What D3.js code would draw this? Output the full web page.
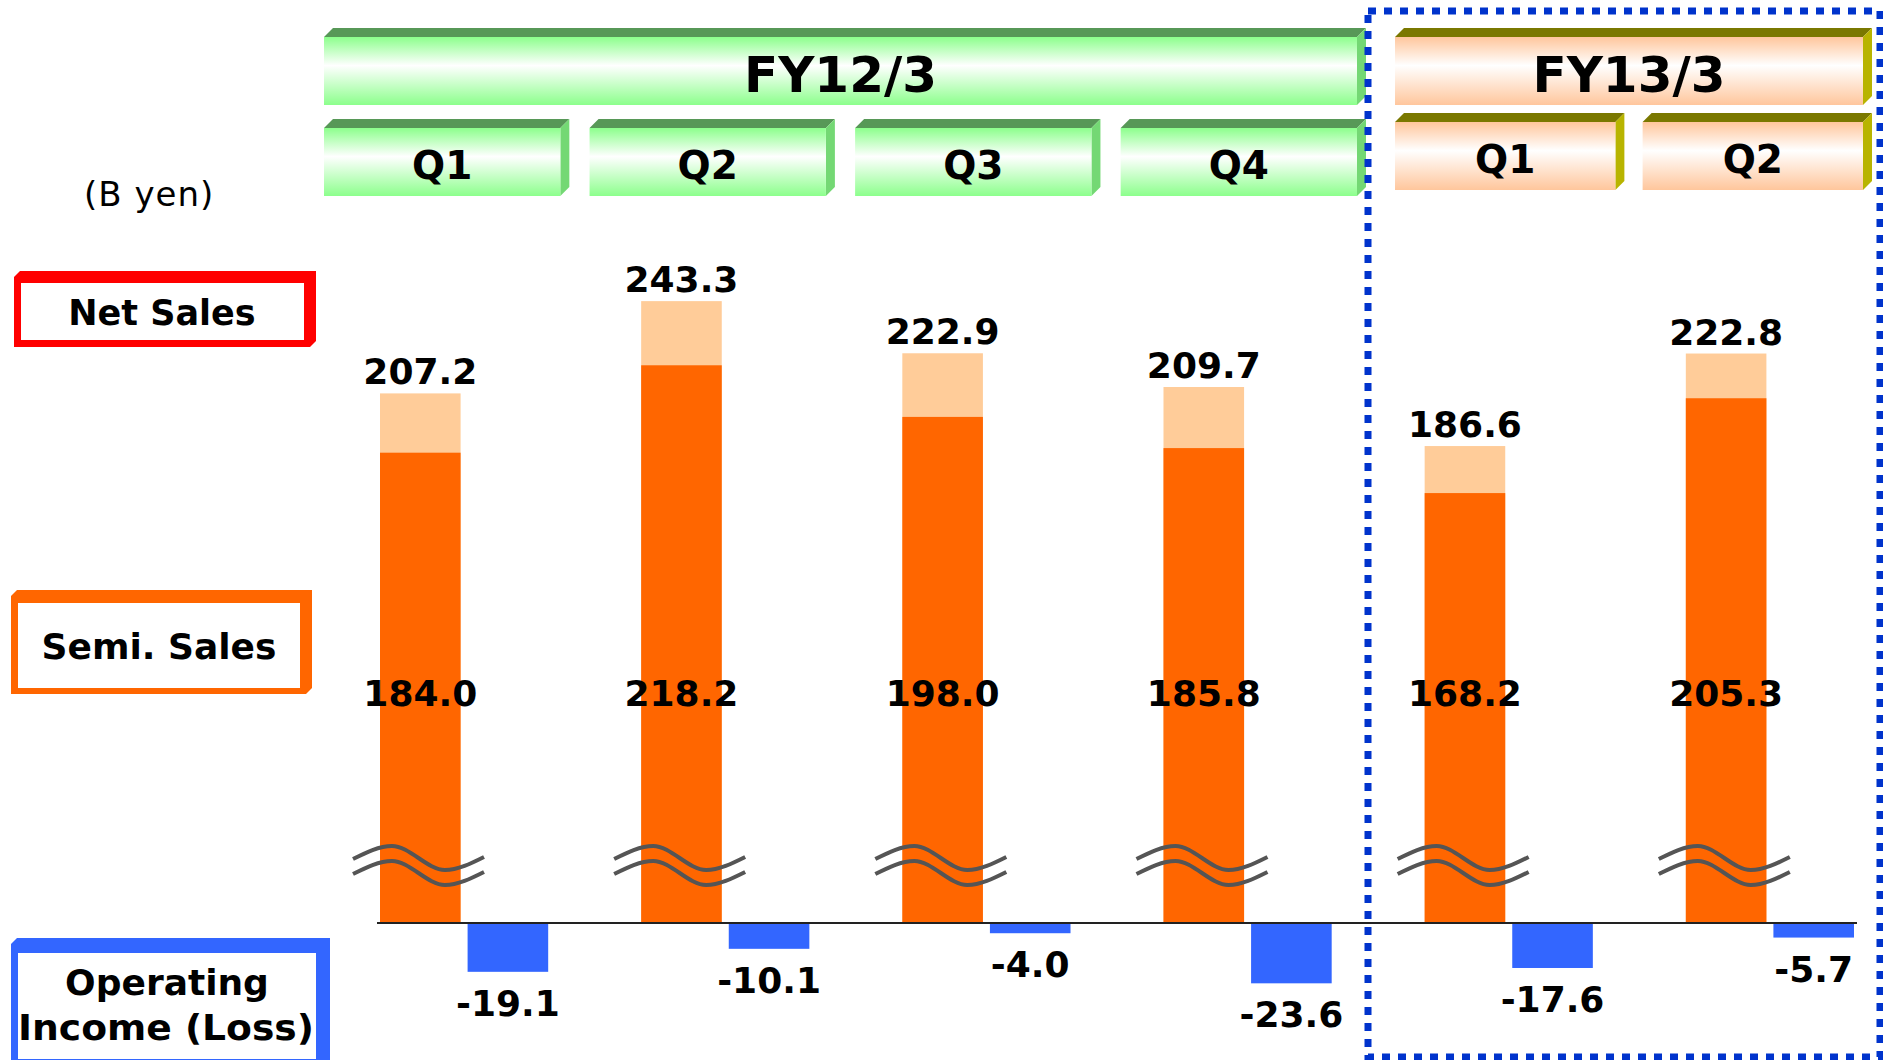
<!DOCTYPE html>
<html>
<head>
<meta charset="utf-8">
<script src="https://cdn.jsdelivr.net/npm/d3@7"></script>
<style>
body { margin: 0; background: #fff; }
text { font-family: "DejaVu Sans", Verdana, sans-serif; }
</style>
</head>
<body>
<div id="chart"></div>
<script>
// data (B yen)
const fiscalYears = ["FY12/3", "FY13/3"];
const quarters = ["Q1", "Q2", "Q3", "Q4", "Q1", "Q2"];
const quarterYear = ["FY12/3", "FY12/3", "FY12/3", "FY12/3", "FY13/3", "FY13/3"];
const netSales = [207.2, 243.3, 222.9, 209.7, 186.6, 222.8];
const semiSales = [184.0, 218.2, 198.0, 185.8, 168.2, 205.3];
const operatingIncome = [-19.1, -10.1, -4.0, -23.6, -17.6, -5.7];
const unitLabel = "(B yen)";

const W = 1883, H = 1060;
const BASE_Y = 923;

const svg = d3.select("#chart").append("svg")
    .attr("width", W)
    .attr("height", H);

const defs = svg.append("defs");
function addGradient(id, edge, mid) {
    const g = defs.append("linearGradient")
        .attr("id", id)
        .attr("x1", 0).attr("y1", 0).attr("x2", 0).attr("y2", 1);
    g.append("stop").attr("offset", "0%").attr("stop-color", edge);
    g.append("stop").attr("offset", "42%").attr("stop-color", mid);
    g.append("stop").attr("offset", "100%").attr("stop-color", edge);
}
addGradient("gGreen", "#8cff8c", "#ffffff");
addGradient("gOrange", "#ffc69c", "#ffffff");

const boxColors = {
    "FY12/3": { front: "url(#gGreen)", top: "#579857", side: "#74d874" },
    "FY13/3": { front: "url(#gOrange)", top: "#7a7800", side: "#b8b400" }
};

// 3d looking header box
function drawBox(x, y0, w, h, colors, label, fontSize, baseline) {
    const d = 9;
    const g = svg.append("g");
    g.append("polygon")
        .attr("points", [[x, y0], [x + d, y0 - d], [x + w + d, y0 - d], [x + w, y0]].join(" "))
        .attr("fill", colors.top);
    g.append("polygon")
        .attr("points", [[x + w, y0], [x + w + d, y0 - d], [x + w + d, y0 + h - d], [x + w, y0 + h]].join(" "))
        .attr("fill", colors.side);
    g.append("rect")
        .attr("x", x).attr("y", y0)
        .attr("width", w).attr("height", h)
        .attr("fill", colors.front);
    g.append("text")
        .attr("x", x + w / 2)
        .attr("y", y0 + baseline)
        .attr("text-anchor", "middle")
        .attr("font-weight", "bold")
        .attr("font-size", fontSize)
        .attr("fill", "#000")
        .text(label);
}

// header : years and quarters
const headerRanges = { "FY12/3": [324, 1357], "FY13/3": [1395, 1863] };
const quarterTop = { "FY12/3": 128, "FY13/3": 122 };
fiscalYears.forEach(fy => {
    const r = headerRanges[fy];
    drawBox(r[0], 37, r[1] - r[0], 68, boxColors[fy], fy, 50, 55);
    const idx = d3.range(quarters.length).filter(i => quarterYear[i] === fy);
    const qx = d3.scaleBand().domain(idx).range(r).paddingInner(0.11).paddingOuter(0);
    idx.forEach(i => {
        drawBox(qx(i), quarterTop[fy], qx.bandwidth(), 68, boxColors[fy], quarters[i], 39, 51);
    });
});

// unit
svg.append("text")
    .attr("x", 84).attr("y", 206)
    .attr("font-size", 34)
    .attr("letter-spacing", 1)
    .text(unitLabel);

// row tags on the left
function drawTag(x0, y0, x1, y1, inset, color, lines, fontSize) {
    const c = 6;
    svg.append("polygon")
        .attr("points", [[x0 + c, y0], [x1, y0], [x1, y1 - c], [x1 - c, y1], [x0, y1], [x0, y0 + c]].join(" "))
        .attr("fill", color);
    svg.append("rect")
        .attr("x", x0 + inset[0]).attr("y", y0 + inset[1])
        .attr("width", x1 - x0 - inset[0] - inset[2])
        .attr("height", y1 - y0 - inset[1] - inset[3])
        .attr("fill", "#fff");
    lines.forEach(l => {
        const t = svg.append("text")
            .attr("x", l.x).attr("y", l.y)
            .attr("text-anchor", "middle")
            .attr("font-weight", "bold")
            .attr("font-size", fontSize)
            .text(l.text);
        if (l.len) t.attr("textLength", l.len).attr("lengthAdjust", "spacingAndGlyphs");
    });
}
drawTag(14, 271, 316, 347, [7, 12, 12, 7], "#ff0000", [{ text: "Net Sales", x: 162, y: 325 }], 35);
drawTag(11, 590, 312, 694, [7, 13, 12, 6], "#ff6600", [{ text: "Semi. Sales", x: 159, y: 659 }], 36);
drawTag(11, 938, 330, 1066, [7, 15, 14, 7], "#3366ff", [
    { text: "Operating", x: 167, y: 995 },
    { text: "Income (Loss)", x: 166, y: 1040, len: 296 }
], 36);

// scales
const y = d3.scaleLinear().domain([0, 250]).range([BASE_Y, 284]);
const x = d3.scaleBand()
    .domain(d3.range(netSales.length))
    .range([380, 1854])
    .paddingInner(0.356)
    .paddingOuter(0);
const xSub = d3.scaleBand()
    .domain(["sales", "op"])
    .range([0, x.bandwidth()])
    .paddingInner(0.08);

const data = netSales.map((v, i) => ({
    i: i, net: v, semi: semiSales[i], op: operatingIncome[i]
}));

const bars = svg.selectAll(".quarter")
    .data(data)
    .enter()
    .append("g")
    .attr("class", "quarter")
    .attr("transform", d => `translate(${x(d.i)},0)`);

bars.append("rect")
    .attr("x", xSub("sales"))
    .attr("y", d => y(d.net))
    .attr("width", xSub.bandwidth())
    .attr("height", d => y(0) - y(d.net))
    .attr("fill", "#ffcc99");

bars.append("rect")
    .attr("x", xSub("sales"))
    .attr("y", d => y(d.semi))
    .attr("width", xSub.bandwidth())
    .attr("height", d => y(0) - y(d.semi))
    .attr("fill", "#ff6600");

bars.append("rect")
    .attr("x", xSub("op"))
    .attr("y", y(0))
    .attr("width", xSub.bandwidth())
    .attr("height", d => y(d.op) - y(0))
    .attr("fill", "#3366ff");

// value labels
bars.append("text")
    .attr("x", xSub("sales") + xSub.bandwidth() / 2)
    .attr("y", d => y(d.net) - 9)
    .attr("text-anchor", "middle")
    .attr("font-weight", "bold")
    .attr("font-size", 36)
    .text(d => d.net.toFixed(1));

bars.append("text")
    .attr("x", xSub("sales") + xSub.bandwidth() / 2)
    .attr("y", 706)
    .attr("text-anchor", "middle")
    .attr("font-weight", "bold")
    .attr("font-size", 36)
    .text(d => d.semi.toFixed(1));

bars.append("text")
    .attr("x", xSub("op") + xSub.bandwidth() / 2)
    .attr("y", d => y(d.op) + 44)
    .attr("text-anchor", "middle")
    .attr("font-weight", "bold")
    .attr("font-size", 36)
    .text(d => d.op.toFixed(1));

// axis break marks (wavy double line)
const wave = d3.line().curve(d3.curveMonotoneX);
const wavePts = [[-27, 1], [12, -12], [65, 12], [104, -1]];
[858, 873].forEach(wy => {
    bars.append("path")
        .attr("d", wave(wavePts.map(p => [xSub("sales") + p[0], wy + p[1]])))
        .attr("fill", "none")
        .attr("stroke", "#555")
        .attr("stroke-width", 4);
});

// zero line
svg.append("line")
    .attr("x1", x.range()[0] - 3)
    .attr("x2", x.range()[1] + 3)
    .attr("y1", y(0)).attr("y2", y(0))
    .attr("stroke", "#222")
    .attr("stroke-width", 2);

// dotted frame around current fiscal year
svg.append("rect")
    .attr("x", 1368).attr("y", 11)
    .attr("width", 512).attr("height", 1046)
    .attr("fill", "none")
    .attr("stroke", "#0033cc")
    .attr("stroke-width", 7)
    .attr("stroke-dasharray", "8 8");
</script>
</body>
</html>
